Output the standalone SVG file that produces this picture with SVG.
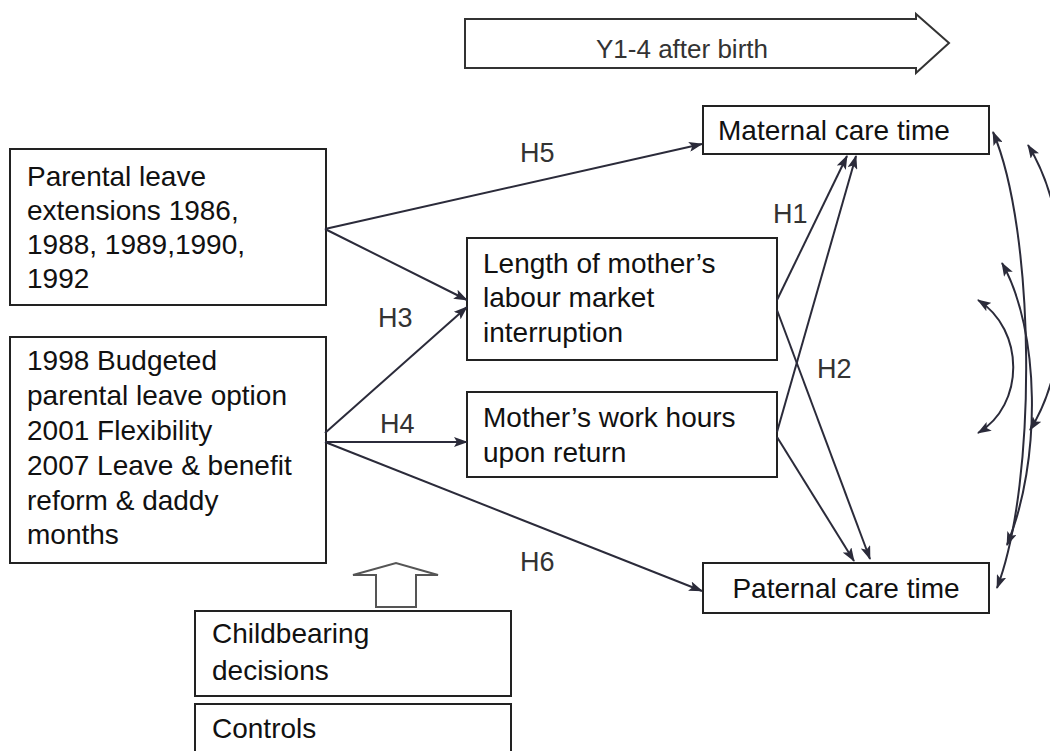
<svg xmlns="http://www.w3.org/2000/svg" width="1050" height="751" viewBox="0 0 1050 751">
<style>
.box{fill:#fff;stroke:#222;stroke-width:2}
.t{font-family:"Liberation Sans",Arial,sans-serif;font-size:28px;fill:#111}
.lbl{font-family:"Liberation Sans",Arial,sans-serif;font-size:27px;fill:#333}
.c{fill:none;stroke:#2b2b3a;stroke-width:2}
.blk{fill:#fff;stroke:#333;stroke-width:2}
</style>
<defs>
<marker id="ah" viewBox="0 0 14 10" refX="13" refY="5" markerWidth="14" markerHeight="10" markerUnits="userSpaceOnUse" orient="auto-start-reverse">
<path d="M0,0 L14,5 L0,10 L3,5 z" fill="#2b2b3a"/>
</marker>
</defs>
<rect width="1050" height="751" fill="#fff"/>

<g id="timeline">
<polygon class="blk" points="465,19 916,19 916,14 949,43 916,73 916,68 465,68"/>
<text class="t" x="682" y="58" text-anchor="middle" style="font-size:26px;fill:#333">Y1-4 after birth</text>
</g>

<g id="n-extensions">
<rect class="box" x="10" y="149" width="316" height="156"/>
<text class="t" x="27" y="186">Parental leave</text>
<text class="t" x="27" y="220">extensions 1986,</text>
<text class="t" x="27" y="254">1988, 1989,1990,</text>
<text class="t" x="27" y="288">1992</text>
</g>

<g id="n-reforms">
<rect class="box" x="10" y="337" width="316" height="226"/>
<text class="t" x="27" y="370">1998 Budgeted</text>
<text class="t" x="27" y="405">parental leave option</text>
<text class="t" x="27" y="440">2001 Flexibility</text>
<text class="t" x="27" y="475">2007 Leave &amp; benefit</text>
<text class="t" x="27" y="510">reform &amp; daddy</text>
<text class="t" x="27" y="544">months</text>
</g>

<g id="n-length">
<rect class="box" x="467" y="238" width="310" height="122"/>
<text class="t" x="483" y="273">Length of mother’s</text>
<text class="t" x="483" y="307">labour market</text>
<text class="t" x="483" y="342">interruption</text>
</g>

<g id="n-hours">
<rect class="box" x="467" y="392" width="310" height="85"/>
<text class="t" x="483" y="427">Mother’s work hours</text>
<text class="t" x="483" y="462">upon return</text>
</g>

<g id="n-maternal">
<rect class="box" x="703" y="106" width="286" height="48"/>
<text class="t" x="718" y="140">Maternal care time</text>
</g>

<g id="n-paternal">
<rect class="box" x="703" y="563" width="286" height="50"/>
<text class="t" x="846" y="598" text-anchor="middle">Paternal care time</text>
</g>

<g id="n-childbearing">
<rect class="box" x="195" y="611" width="316" height="85"/>
<text class="t" x="212" y="643">Childbearing</text>
<text class="t" x="212" y="680">decisions</text>
<polygon class="blk" style="stroke:#555" points="376,607 376,575 353,575 396,563 438,575 416,575 416,607"/>
</g>

<g id="n-controls">
<rect class="box" x="195" y="704" width="316" height="60"/>
<text class="t" x="212" y="738">Controls</text>
</g>

<g id="connectors">
<line class="c" x1="325" y1="229" x2="702" y2="144" marker-end="url(#ah)"/>
<line class="c" x1="325" y1="229" x2="467" y2="300" marker-end="url(#ah)"/>
<line class="c" x1="325" y1="433" x2="467" y2="307" marker-end="url(#ah)"/>
<line class="c" x1="325" y1="442" x2="467" y2="442" marker-end="url(#ah)"/>
<line class="c" x1="325" y1="442" x2="702" y2="591" marker-end="url(#ah)"/>
<line class="c" x1="777" y1="300" x2="847" y2="156" marker-end="url(#ah)"/>
<line class="c" x1="777" y1="310" x2="870" y2="559" marker-end="url(#ah)"/>
<line class="c" x1="777" y1="432" x2="856" y2="156" marker-end="url(#ah)"/>
<line class="c" x1="777" y1="437" x2="854" y2="561" marker-end="url(#ah)"/>
<path class="c" d="M993,132 C1035,230 1038,480 997,588" marker-start="url(#ah)" marker-end="url(#ah)"/>
<path class="c" d="M1028,145 C1075,220 1075,360 1030,430" marker-start="url(#ah)" marker-end="url(#ah)"/>
<path class="c" d="M1002,263 C1040,330 1042,460 1007,545" marker-start="url(#ah)" marker-end="url(#ah)"/>
<path class="c" d="M978,300 C1025,330 1025,405 978,433" marker-start="url(#ah)" marker-end="url(#ah)"/>
<text class="lbl" x="520" y="162">H5</text>
<text class="lbl" x="378" y="327">H3</text>
<text class="lbl" x="380" y="433">H4</text>
<text class="lbl" x="520" y="571">H6</text>
<text class="lbl" x="773" y="223">H1</text>
<text class="lbl" x="817" y="378">H2</text>
</g>
</svg>
